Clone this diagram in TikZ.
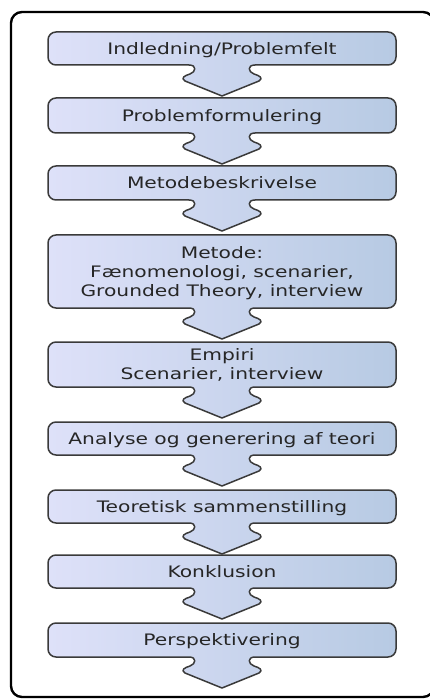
\documentclass[tikz,border=0pt]{standalone}
\usepackage{fontspec}
\setmainfont{DejaVu Sans}
\begin{document}
\begin{tikzpicture}[x=1pt,y=-1pt]
\definecolor{boxL}{HTML}{DEE1F9}
\definecolor{boxR}{HTML}{B7CAE3}
\definecolor{edge}{HTML}{3A3A3A}
\definecolor{ink}{HTML}{262626}
\tikzset{
  stage/.style={draw=edge, line width=1.5pt, left color=boxL, right color=boxR, line join=round},
  stagetext/.style={text=ink, font=\fontsize{15.8}{19}\selectfont, align=center,
    xscale=1.28, inner sep=0pt, text depth=0pt},
  outerframe/.style={draw=black, line width=2.4pt, rounded corners=11pt},
}
% box geometry: left edge, right edge, centre, corner radius
\def\lx{48}\def\rx{396}\def\cx{222}\def\rr{8}
% one process step: rounded box with a curled down-pointing tab
% #1 name, #2 top, #3 bottom, #4 extra text lines, #5 text
\newcommand\stagebox[5]{%
  \path[stage] (\cx-33,#3) -- (\lx+\rr,#3)
    arc[start angle=90,end angle=180,radius=\rr] -- (\lx,#2+\rr)
    arc[start angle=180,end angle=270,radius=\rr] -- (\rx-\rr,#2)
    arc[start angle=270,end angle=360,radius=\rr] -- (\rx,#3-\rr)
    arc[start angle=0,end angle=90,radius=\rr] -- (\cx+33,#3)
    .. controls (\cx+25,#3) and (\cx+26,#3+7) .. (\cx+32,#3+9)
    .. controls (\cx+37,#3+10.5) and (\cx+42,#3+13) .. (\cx+37,#3+16)
    -- (\cx,#3+31) -- (\cx-37,#3+16)
    .. controls (\cx-42,#3+13) and (\cx-37,#3+10.5) .. (\cx-32,#3+9)
    .. controls (\cx-26,#3+7) and (\cx-25,#3) .. (\cx-33,#3) -- cycle;
  \node[stagetext, text height={11.5pt+#4*19pt}] (#1) at (\cx,{(#2+#3)/2}) {#5};
}
\useasboundingbox (0,0) rectangle (430,700);
\clip (0,0) rectangle (430,700);
\draw[outerframe] (11,12) rectangle (434,697);

\stagebox{s1}{32}{65}{0}{Indledning/Problemfelt}
\stagebox{s2}{98}{133}{0}{Problemformulering}
\stagebox{s3}{166}{200}{0}{Metodebeskrivelse}
\stagebox{s4}{235}{308}{2}{Metode:\\Fænomenologi, scenarier,\\Grounded Theory, interview}
\stagebox{s5}{342}{387}{1}{Empiri\\Scenarier, interview}
\stagebox{s6}{422}{455}{0}{Analyse og generering af teori}
\stagebox{s7}{490}{523}{0}{Teoretisk sammenstilling}
\stagebox{s8}{555}{588}{0}{Konklusion}
\stagebox{s9}{623}{657}{0}{Perspektivering}
\end{tikzpicture}
\end{document}
